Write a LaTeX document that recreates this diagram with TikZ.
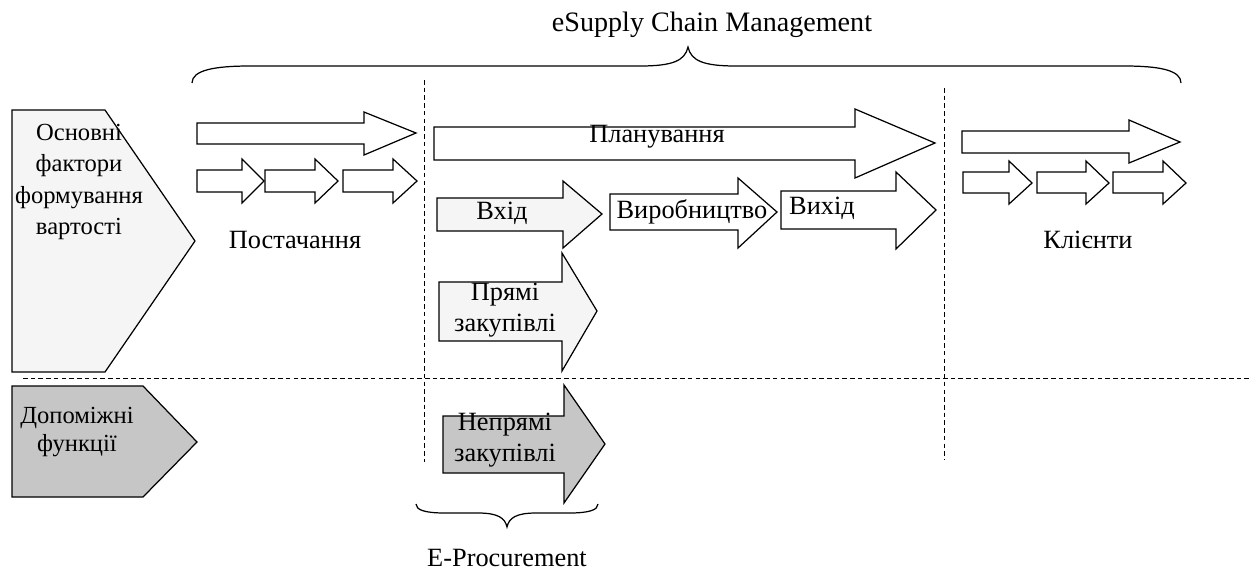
\documentclass[tikz,border=0pt]{standalone}
\usepackage{fontspec}
\setmainfont{Liberation Serif}
\begin{document}
\begin{tikzpicture}[x=0.02cm,y=-0.02cm,
    blk/.style={draw,line width=0.7pt,line join=miter},
    whitearrow/.style={blk,fill=white},
    lightarrow/.style={blk,fill=gray!8},
    darkarrow/.style={blk,fill=gray!45},
    divider/.style={line width=0.5pt,dash pattern=on 2.6pt off 1.8pt},
    lbl/.style={inner sep=0pt,align=center,font=\fontsize{15}{18}\selectfont}]
    \useasboundingbox (0,0) rectangle (1249,576);
    % title and brace
    \node[lbl,font=\fontsize{16}{19}\selectfont] (scm) at (712,25) {eSupply Chain Management};
    \draw[line width=0.7pt] (192,83) .. controls (192,70) and (215,66) .. (250,66) -- (640,66)
        .. controls (672,66) and (685,61) .. (688,47) .. controls (691,61) and (704,66) .. (736,66)
        -- (1124,66) .. controls (1159,66) and (1181,70) .. (1181,83);
    % dividers
    \draw[divider] (424,80) -- (424,462);
    \draw[divider] (944,88) -- (944,460);
    \draw[divider] (23,378) -- (1249,378);
    % value factors
    \draw[lightarrow] (12,110) -- (105,110) -- (195,241) -- (105,372) -- (12,372) -- cycle;
    \draw[darkarrow] (12,386) -- (143,386) -- (197,442) -- (143,497) -- (12,497) -- cycle;
    \node[lbl,font=\fontsize{14}{18}\selectfont] (osn) at (79,182) {Основні\\фактори\\формування\\вартості};
    \node[lbl,font=\fontsize{14}{16}\selectfont] (dop) at (77,432) {Допоміжні\\функції};
    % supply
    \draw[whitearrow] (197,123) -- (364,123) -- (364,112) -- (416,133) -- (364,155) -- (364,144) -- (197,144) -- cycle;
    \foreach \l/\h/\t in {197/242/264, 265/315/338, 343/393/417}
        \draw[whitearrow] (\l,170) -- (\h,170) -- (\h,159) -- (\t,181) -- (\h,203) -- (\h,192) -- (\l,192) -- cycle;
    \node[lbl] (post) at (295,240) {Постачання};
    % planning and production
    \draw[whitearrow] (434,127) -- (855,127) -- (855,109) -- (935,143) -- (855,178) -- (855,160) -- (434,160) -- cycle;
    \node[lbl] (plan) at (657,137) {Планування};
    \draw[lightarrow] (437,198) -- (563,198) -- (563,181) -- (602,214) -- (563,248) -- (563,231) -- (437,231) -- cycle;
    \node[lbl] (vhid) at (502,213) {Вхід};
    \draw[whitearrow] (610,194) -- (738,194) -- (738,178) -- (777,212) -- (738,248) -- (738,230) -- (610,230) -- cycle;
    \node[lbl] (vyr) at (692,212) {Виробництво};
    \draw[whitearrow] (781,191) -- (896,191) -- (896,172) -- (936,210) -- (896,249) -- (896,229) -- (781,229) -- cycle;
    \node[lbl] (vyh) at (822,208) {Вихід};
    \draw[lightarrow] (439,282) -- (562,282) -- (562,253) -- (597,311) -- (562,371) -- (562,341) -- (439,341) -- cycle;
    \node[lbl] (pryami) at (505,310) {Прямі\\закупівлі};
    \draw[darkarrow] (443,416) -- (564,416) -- (564,385) -- (605,444) -- (564,503) -- (564,473) -- (443,473) -- cycle;
    \node[lbl] (nepryami) at (505,440) {Непрямі\\закупівлі};
    % e-procurement brace
    \draw[line width=0.7pt] (416,504) .. controls (416,510) and (425,513) .. (445,513) -- (478,513)
        .. controls (498,513) and (505,518) .. (507,527) .. controls (509,518) and (516,513) .. (536,513)
        -- (569,513) .. controls (589,513) and (598,510) .. (598,504);
    \node[lbl] (eproc) at (507,558) {E-Procurement};
    % clients
    \draw[whitearrow] (962,131) -- (1129,131) -- (1129,120) -- (1180,142) -- (1129,163) -- (1129,153) -- (962,153) -- cycle;
    \foreach \l/\h/\t in {963/1009/1032, 1037/1086/1109, 1113/1163/1186}
        \draw[whitearrow] (\l,172) -- (\h,172) -- (\h,161) -- (\t,183) -- (\h,204) -- (\h,193) -- (\l,193) -- cycle;
    \node[lbl] (klienty) at (1088,240) {Клієнти};
\end{tikzpicture}
\end{document}
